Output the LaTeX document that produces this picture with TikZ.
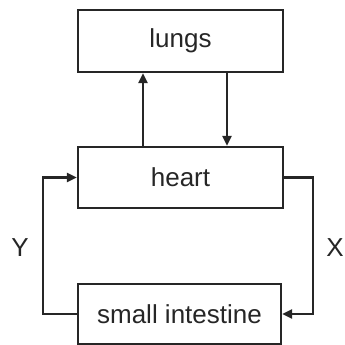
\documentclass[tikz,border=0pt]{standalone}
\usepackage{fontspec}
\setmainfont{Liberation Sans}
\usetikzlibrary{arrows.meta}
\definecolor{ink}{HTML}{262626}
\begin{document}
\begin{tikzpicture}[x=1pt,y=-1pt,
  box/.style={draw=ink,line width=2.2pt,inner sep=0pt,font=\fontsize{26}{30}\selectfont,text=ink},
  conn/.style={draw=ink,line width=2.2pt,-{Triangle[length=10pt,width=9pt]}},
  lbl/.style={font=\fontsize{26}{30}\selectfont,text=ink}]
\useasboundingbox (0,0) rectangle (345,345);
\node[box,minimum width=205pt,minimum height=62pt] (lungs) at (180.5,41) {lungs};
\node[box,minimum width=205pt,minimum height=61pt] (heart) at (180.5,177.5) {heart};
\node[box,minimum width=203pt,minimum height=60pt] (si) at (179.5,314) {small intestine};
\coordinate (ua) at (143,0);
\coordinate (da) at (227,0);
\coordinate (yl) at (43,0);
\coordinate (xr) at (313,0);
\draw[conn] (heart.north -| ua) -- (lungs.south -| ua);
\draw[conn] (lungs.south -| da) -- (heart.north -| da);
\draw[conn] (si.west) -- (si.west -| yl) -- (heart.west -| yl) -- (heart.west);
\draw[conn] (heart.east) -- (heart.east -| xr) -- (si.east -| xr) -- (si.east);
\node[lbl] (Y) at (20,248) {Y};
\node[lbl] (X) at (335,248) {X};
\end{tikzpicture}
\end{document}
